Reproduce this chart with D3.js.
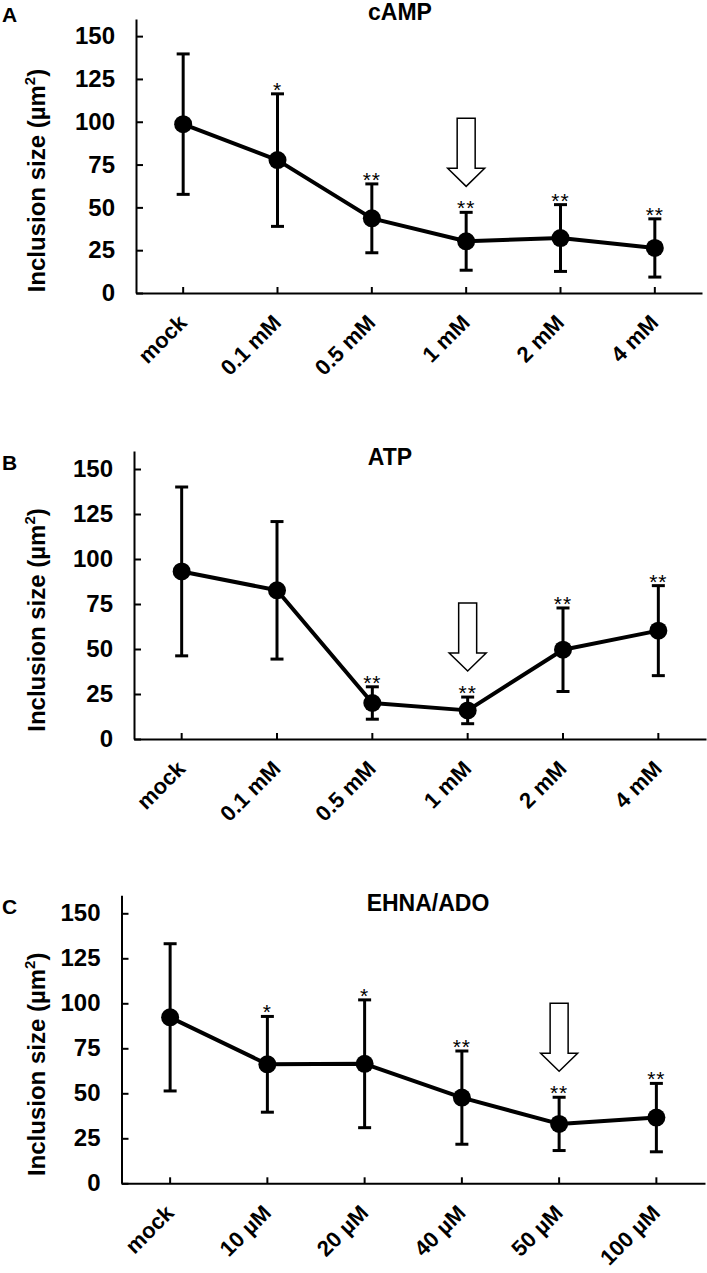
<!DOCTYPE html>
<html>
<head>
<meta charset="utf-8">
<script src="https://cdn.jsdelivr.net/npm/d3@7"></script>
<style>
  html, body { margin: 0; padding: 0; background: #fff; }
  svg { display: block; }
  text { font-family: "Liberation Sans", Arial, Helvetica, sans-serif; fill: #000; }
</style>
</head>
<body>
<div id="chart"></div>
<script>
// ---------------- DATA ----------------
const yTicks = [0, 25, 50, 75, 100, 125, 150];

const catsA  = ["mock", "0.1 mM", "0.5 mM", "1 mM", "2 mM", "4 mM"];
const meanA  = [98.6, 77.6, 43.6, 30.2, 32.1, 26.3];
const sdA    = [41.0, 38.7, 20.1, 16.9, 19.5, 17.0];
const starsA = ["", "*", "**", "**", "**", "**"];
const arrowA = "1 mM";
const titleA = "cAMP";

const catsB  = ["mock", "0.1 mM", "0.5 mM", "1 mM", "2 mM", "4 mM"];
const meanB  = [93.1, 82.6, 20.0, 15.9, 49.6, 60.2];
const sdB    = [46.9, 38.2, 9.0, 7.4, 23.2, 25.0];
const starsB = ["", "", "**", "**", "**", "**"];
const arrowB = "1 mM";
const titleB = "ATP";

const catsC  = ["mock", "10 µM", "20 µM", "40 µM", "50 µM", "100 µM"];
const meanC  = [92.2, 66.1, 66.4, 47.6, 33.0, 36.5];
const sdC    = [40.9, 26.6, 35.5, 25.9, 14.8, 19.0];
const starsC = ["", "*", "*", "**", "**", "**"];
const arrowC = "50 µM";
const titleC = "EHNA/ADO";

const yLabel = "Inclusion size (µm";

// ---------------- LAYOUT ----------------
const W = 707, H = 1273;
const svg = d3.select("#chart").append("svg").attr("width", W).attr("height", H);
const FONT = "'Liberation Sans', Arial, Helvetica, sans-serif";

function panel(cfg, cats, means, sds, stars, arrowCat, title, letter) {
  const g = svg.append("g");
  const x = d3.scaleBand().domain(cats).range([cfg.left, cfg.right]).paddingInner(0).paddingOuter(0);
  const y = d3.scaleLinear().domain([0, 160]).range([cfg.y0, cfg.yTop]);
  const cx = d => x(d) + x.bandwidth() / 2;

  // y axis
  const ya = g.append("g").attr("transform", `translate(${cfg.left},0)`)
    .call(d3.axisLeft(y).tickValues(yTicks).tickSizeInner(-7).tickSizeOuter(0).tickPadding(21));
  ya.select(".domain").attr("stroke-width", 2);
  ya.selectAll(".tick line").attr("stroke-width", 2);
  ya.selectAll(".tick text").attr("font-size", 24).attr("font-weight", "bold").attr("font-family", FONT);

  // x axis
  const xa = g.append("g").attr("transform", `translate(0,${cfg.y0})`)
    .call(d3.axisBottom(x).tickSizeInner(-6).tickSizeOuter(0).tickFormat(""));
  xa.select(".domain").attr("stroke-width", 2);
  xa.selectAll(".tick line").attr("stroke-width", 2);

  // x labels rotated
  g.selectAll(".xl").data(cats).join("text")
    .attr("class", "xl")
    .attr("transform", d => `translate(${cx(d) + 5},${cfg.y0 + 31}) rotate(-45)`)
    .attr("text-anchor", "end")
    .attr("font-size", 22).attr("font-weight", "bold")
    .text(d => d);

  // y label
  const yl = g.append("text")
    .attr("transform", `translate(45,${(cfg.y0 + y(150)) / 2 + 16}) rotate(-90)`)
    .attr("text-anchor", "middle")
    .attr("font-size", 24).attr("font-weight", "bold");
  yl.append("tspan").text(yLabel);
  yl.append("tspan").attr("font-size", 15).attr("dy", -10).text("2");
  yl.append("tspan").attr("dy", 10).text(")");

  const data = cats.map((c, i) => ({ c, m: means[i], s: sds[i], st: stars[i] }));

  // error bars
  const eb = g.append("g").attr("stroke", "#000").attr("stroke-width", 3);
  data.forEach(d => {
    eb.append("line").attr("x1", cx(d.c)).attr("x2", cx(d.c)).attr("y1", y(d.m + d.s)).attr("y2", y(d.m - d.s));
    eb.append("line").attr("x1", cx(d.c) - 6.5).attr("x2", cx(d.c) + 6.5).attr("y1", y(d.m + d.s)).attr("y2", y(d.m + d.s));
    eb.append("line").attr("x1", cx(d.c) - 6.5).attr("x2", cx(d.c) + 6.5).attr("y1", y(d.m - d.s)).attr("y2", y(d.m - d.s));
  });

  // line
  g.append("path").datum(data)
    .attr("fill", "none").attr("stroke", "#000").attr("stroke-width", 4).attr("stroke-linejoin", "round")
    .attr("d", d3.line().x(d => cx(d.c)).y(d => y(d.m)));

  // points
  g.selectAll(".pt").data(data).join("circle")
    .attr("class", "pt").attr("cx", d => cx(d.c)).attr("cy", d => y(d.m)).attr("r", 9).attr("fill", "#000");

  // stars
  g.selectAll(".st").data(data.filter(d => d.st)).join("text")
    .attr("class", "st").attr("x", d => cx(d.c)).attr("y", d => y(d.m + d.s) + 3)
    .attr("text-anchor", "middle").attr("font-size", 21).attr("letter-spacing", 1)
    .text(d => d.st);

  // arrow
  const ad = data.find(d => d.c === arrowCat);
  const ax = cx(ad.c), tip = y(ad.m + ad.s) - 26;
  const pts = [[ax - 9, tip - 68], [ax + 9, tip - 68], [ax + 9, tip - 18], [ax + 18.5, tip - 18],
               [ax, tip], [ax - 18.5, tip - 18], [ax - 9, tip - 18]];
  g.append("polygon").attr("points", pts.map(p => p.join(",")).join(" "))
    .attr("fill", "#fff").attr("stroke", "#000").attr("stroke-width", 1.5);

  // title & letter
  g.append("text").attr("x", cfg.titleX).attr("y", cfg.titleY).attr("text-anchor", "middle")
    .attr("font-size", 23).attr("font-weight", "bold").text(title);
  g.append("text").attr("x", 2).attr("y", cfg.letterY)
    .attr("font-size", 21).attr("font-weight", "bold").text(letter);
}

panel({ left: 136, right: 702, y0: 293, yTop: 19, titleX: 400, titleY: 20, letterY: 22 },
      catsA, meanA, sdA, starsA, arrowA, titleA, "A");
panel({ left: 134, right: 706, y0: 739, yTop: 451, titleX: 390, titleY: 465, letterY: 470 },
      catsB, meanB, sdB, starsB, arrowB, titleB, "B");
panel({ left: 121.5, right: 705, y0: 1183.3, yTop: 895.3, titleX: 428, titleY: 911, letterY: 914 },
      catsC, meanC, sdC, starsC, arrowC, titleC, "C");
</script>
</body>
</html>
